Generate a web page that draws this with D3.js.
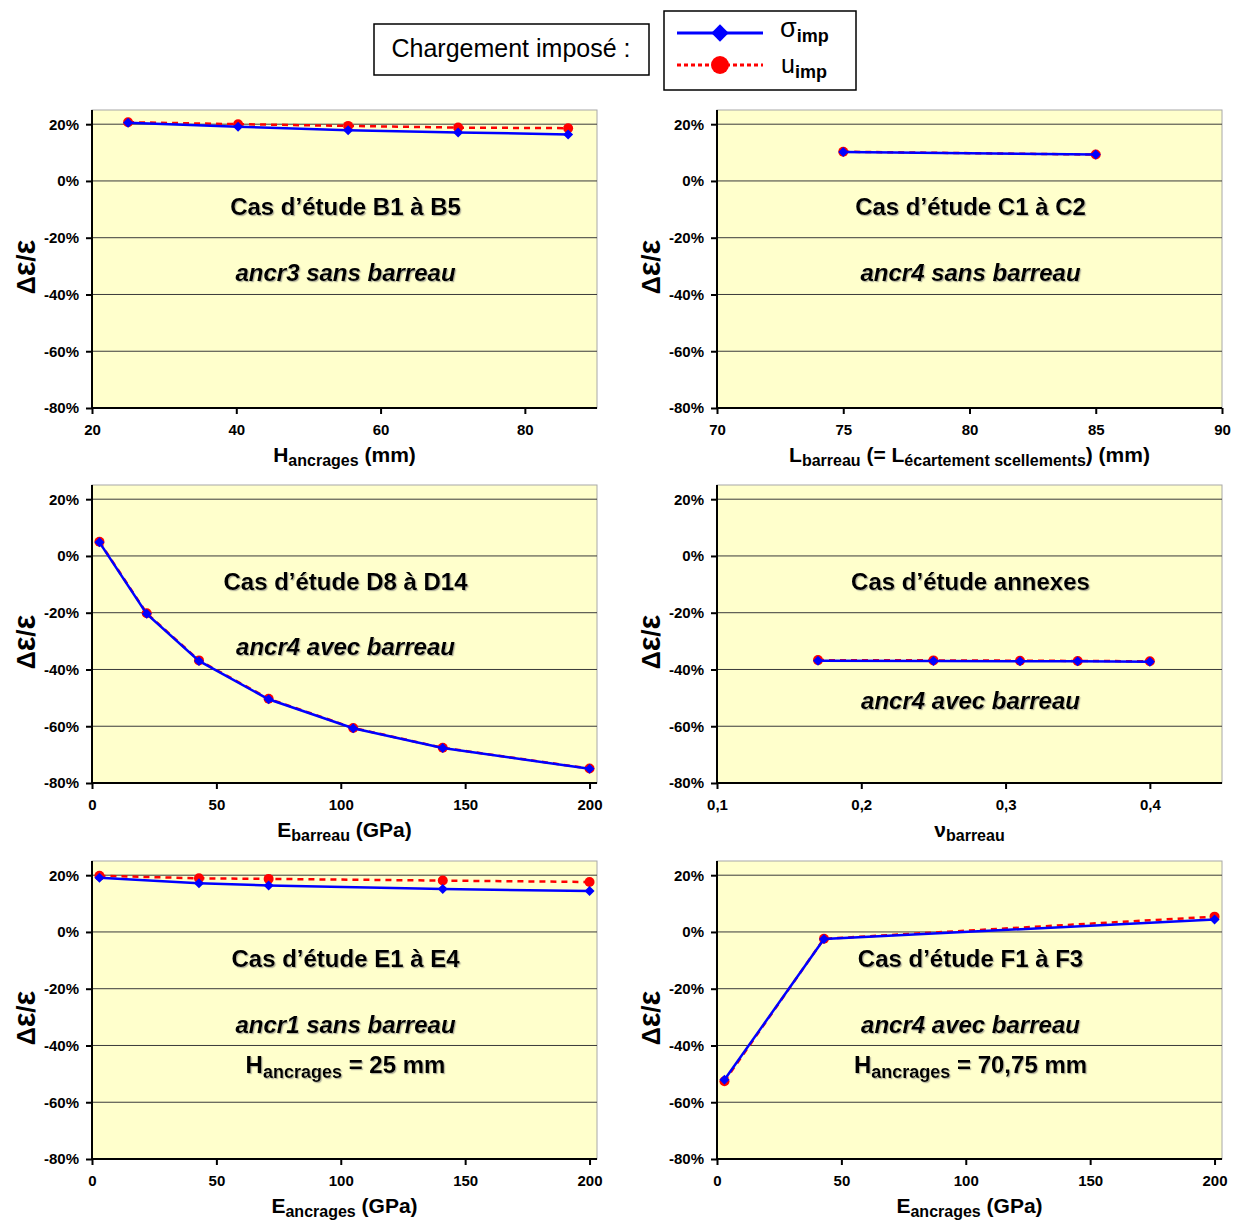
<!DOCTYPE html>
<html><head><meta charset="utf-8">
<script src="https://cdn.jsdelivr.net/npm/d3@7"></script>
<style>
body{margin:0;background:#fff}
svg{display:block}
text{font-family:"Liberation Sans",Arial,Helvetica,sans-serif}
</style></head>
<body><svg id="chart" width="1240" height="1220"></svg>
<script>
// ---------------- DATA ----------------
const yTickValues = [-80, -60, -40, -20, 0, 20];

const xB = [25, 40.25, 55.5, 70.75, 86];
const sigmaB = [20.5, 19.1, 17.9, 17.1, 16.4];
const uB = [20.7, 20.0, 19.4, 18.8, 18.6];
const xTicksB = [20, 40, 60, 80];

const xC = [75, 85];
const sigmaC = [10.2, 9.3];
const uC = [10.3, 9.3];
const xTicksC = [70, 75, 80, 85, 90];

const xD = [3, 22, 43, 71, 105, 141, 200];
const sigmaD = [4.8, -20.4, -37.0, -50.5, -60.7, -67.7, -75.0];
const uD = [5.0, -20.2, -36.8, -50.3, -60.6, -67.6, -74.9];
const xTicksD = [0, 50, 100, 150, 200];

const xAnn = [0.17, 0.25, 0.31, 0.35, 0.40];
const sigmaAnn = [-36.9, -37.0, -37.1, -37.1, -37.3];
const uAnn = [-36.7, -36.8, -36.9, -37.0, -37.1];
const xTicksAnn = [0.1, 0.2, 0.3, 0.4];

const xE = [3, 43, 71, 141, 200];
const sigmaE = [19.1, 17.2, 16.4, 15.1, 14.4];
const uE = [19.8, 18.9, 18.7, 18.1, 17.6];
const xTicksE = [0, 50, 100, 150, 200];

const xF = [3, 43, 200];
const sigmaF = [-52.1, -2.5, 4.4];
const uF = [-52.6, -2.4, 5.4];
const xTicksF = [0, 50, 100, 150, 200];

// text content
const yTitleParts = [["Δ", 25], ["ε", 31], ["/", 26], ["ε", 31]];
const legendTitle = "Chargement imposé :";
const titleB = [["H", 0], ["ancrages", 1], [" (mm)", 0]];
const titleC = [["L", 0], ["barreau", 1], [" (= L", 0], ["écartement scellements", 1], [") (mm)", 0]];
const titleD = [["E", 0], ["barreau", 1], [" (GPa)", 0]];
const titleAnn = [["ν", 0], ["barreau", 1]];
const titleE = [["E", 0], ["ancrages", 1], [" (GPa)", 0]];
const titleF = [["E", 0], ["ancrages", 1], [" (GPa)", 0]];
const notesB = ["Cas d’étude B1 à B5", "ancr3 sans barreau"];
const notesC = ["Cas d’étude C1 à C2", "ancr4 sans barreau"];
const notesD = ["Cas d’étude D8 à D14", "ancr4 avec barreau"];
const notesAnn = ["Cas d’étude annexes", "ancr4 avec barreau"];
const notesE = ["Cas d’étude E1 à E4", "ancr1 sans barreau"];
const notesF = ["Cas d’étude F1 à F3", "ancr4 avec barreau"];
const hNoteE = [["H", 0], ["ancrages", 1], [" = 25 mm", 0]];
const hNoteF = [["H", 0], ["ancrages", 1], [" = 70,75 mm", 0]];

// ---------------- LAYOUT ----------------
const colLeft = [92, 717];
const plotW = 505;
const rowTop = [110, 485, 861];
const plotH = 298;
const BLUE = "#0000ff", RED = "#ff0000", BG = "#ffffcc";

const svg = d3.select("#chart");
const defs = svg.append("defs");
const f = defs.append("filter").attr("id", "shadow").attr("x", "-5%").attr("y", "-20%").attr("width", "110%").attr("height", "140%");
f.append("feDropShadow").attr("dx", 1.2).attr("dy", 1.2).attr("stdDeviation", 0.6)
  .attr("flood-color", "#777").attr("flood-opacity", 0.55);

function rich(sel, parts, big, small, shift) {
  let prevSub = false;
  parts.forEach(([t, sub]) => {
    const ts = sel.append("tspan").text(t).attr("font-size", sub ? small : big);
    if (sub && !prevSub) ts.attr("dy", shift);
    else if (!sub && prevSub) ts.attr("dy", -shift);
    prevSub = !!sub;
  });
}

const panels = [
  {col: 0, row: 0, x: xB, s: sigmaB, u: uB, dom: [20, 90], ticks: xTicksB, fmt: d3.format("d"), title: titleB, notes: notesB, noteY: [105, 171], h: null},
  {col: 1, row: 0, x: xC, s: sigmaC, u: uC, dom: [70, 90], ticks: xTicksC, fmt: d3.format("d"), title: titleC, notes: notesC, noteY: [105, 171], h: null},
  {col: 0, row: 1, x: xD, s: sigmaD, u: uD, dom: [0, 203], ticks: xTicksD, fmt: d3.format("d"), title: titleD, notes: notesD, noteY: [105, 170], h: null},
  {col: 1, row: 1, x: xAnn, s: sigmaAnn, u: uAnn, dom: [0.1, 0.45], ticks: xTicksAnn, fmt: d => d.toFixed(1).replace(".", ","), title: titleAnn, notes: notesAnn, noteY: [105, 224], h: null},
  {col: 0, row: 2, x: xE, s: sigmaE, u: uE, dom: [0, 203], ticks: xTicksE, fmt: d3.format("d"), title: titleE, notes: notesE, noteY: [106, 172], h: hNoteE},
  {col: 1, row: 2, x: xF, s: sigmaF, u: uF, dom: [0, 203], ticks: xTicksF, fmt: d3.format("d"), title: titleF, notes: notesF, noteY: [106, 172], h: hNoteF}
];

const diamond = d3.symbol().type(d3.symbolSquare).size(50)();
const diamondBig = d3.symbol().type(d3.symbolSquare).size(150)();

panels.forEach(p => {
  const L = colLeft[p.col], T = rowTop[p.row];
  const x = d3.scaleLinear().domain(p.dom).range([L, L + plotW]);
  const y = d3.scaleLinear().domain([-80, 25]).range([T + plotH, T]);
  const g = svg.append("g");

  g.append("rect").attr("x", L).attr("y", T).attr("width", plotW).attr("height", plotH)
    .attr("fill", BG).attr("stroke", "#a8a8a8").attr("stroke-width", 1);

  // gridlines
  g.append("g").selectAll("line").data(yTickValues.filter(v => v !== -80)).join("line")
    .attr("x1", L).attr("x2", L + plotW).attr("y1", d => y(d)).attr("y2", d => y(d))
    .attr("stroke", "#3a3a3a").attr("stroke-width", 1);

  // axes
  const ya = g.append("g").attr("transform", `translate(${L},0)`)
    .call(d3.axisLeft(y).tickValues(yTickValues).tickFormat(d => d + "%").tickSize(6).tickPadding(7));
  const xa = g.append("g").attr("transform", `translate(0,${T + plotH})`)
    .call(d3.axisBottom(x).tickValues(p.ticks).tickFormat(p.fmt).tickSize(6).tickPadding(10));
  [ya, xa].forEach(a => {
    a.select(".domain").attr("stroke", "#000").attr("stroke-width", 2);
    a.selectAll(".tick line").attr("stroke", "#000").attr("stroke-width", 2);
    a.selectAll(".tick text").attr("fill", "#000").attr("font-size", 15).attr("font-weight", "bold")
      .attr("font-family", '"Liberation Sans",Arial,sans-serif');
  });
  ya.select(".domain").attr("d", `M0,${T + plotH}V${T}`);
  xa.select(".domain").attr("d", `M${L},0H${L + plotW}`);

  // y title
  const yt = g.append("text").attr("transform", `translate(${L - 57},${T + plotH / 2 + 8}) rotate(-90)`)
    .attr("text-anchor", "middle").attr("font-weight", "bold");
  yTitleParts.forEach(([t, fs]) => yt.append("tspan").attr("font-size", fs).text(t));

  // x title
  const xt = g.append("text").attr("x", L + plotW / 2).attr("y", T + plotH + 54)
    .attr("text-anchor", "middle").attr("font-weight", "bold");
  rich(xt, p.title, 21, 16, 4);

  // notes
  const cx = L + plotW / 2 + 1;
  g.append("text").attr("x", cx).attr("y", T + p.noteY[0]).attr("text-anchor", "middle")
    .attr("font-size", 24).attr("font-weight", "bold").attr("filter", "url(#shadow)").text(p.notes[0]);
  g.append("text").attr("x", cx).attr("y", T + p.noteY[1]).attr("text-anchor", "middle")
    .attr("font-size", 24).attr("font-weight", "bold").attr("font-style", "italic")
    .attr("filter", "url(#shadow)").text(p.notes[1]);
  if (p.h) {
    const ht = g.append("text").attr("x", cx).attr("y", T + 212).attr("text-anchor", "middle")
      .attr("font-weight", "bold").attr("filter", "url(#shadow)");
    rich(ht, p.h, 24, 18, 5);
  }

  // series
  const line = d3.line().x(d => x(d[0])).y(d => y(d[1]));
  const red = p.x.map((v, i) => [v, p.u[i]]);
  const blue = p.x.map((v, i) => [v, p.s[i]]);
  g.append("path").datum(red).attr("d", line).attr("fill", "none").attr("stroke", RED)
    .attr("stroke-width", 2.5).attr("stroke-dasharray", "6,5");
  g.append("g").selectAll("circle").data(red).join("circle")
    .attr("cx", d => x(d[0])).attr("cy", d => y(d[1])).attr("r", 5).attr("fill", RED);
  g.append("path").datum(blue).attr("d", line).attr("fill", "none").attr("stroke", BLUE)
    .attr("stroke-width", 2.5);
  g.append("g").selectAll("path").data(blue).join("path")
    .attr("d", diamond).attr("fill", BLUE)
    .attr("transform", d => `translate(${x(d[0])},${y(d[1])}) rotate(45)`);
});

// ---------------- LEGEND ----------------
svg.append("rect").attr("x", 374).attr("y", 24).attr("width", 275).attr("height", 51)
  .attr("fill", "#fff").attr("stroke", "#000").attr("stroke-width", 1.5);
svg.append("text").attr("x", 511).attr("y", 57).attr("text-anchor", "middle")
  .attr("font-size", 25).text(legendTitle);

svg.append("rect").attr("x", 664).attr("y", 11).attr("width", 192).attr("height", 79)
  .attr("fill", "#fff").attr("stroke", "#000").attr("stroke-width", 1.5);
svg.append("line").attr("x1", 677).attr("x2", 763).attr("y1", 33).attr("y2", 33)
  .attr("stroke", BLUE).attr("stroke-width", 3);
svg.append("path").attr("d", diamondBig).attr("fill", BLUE).attr("transform", "translate(720,33) rotate(45)");
svg.append("line").attr("x1", 677).attr("x2", 763).attr("y1", 65).attr("y2", 65)
  .attr("stroke", RED).attr("stroke-width", 3).attr("stroke-dasharray", "4,3");
svg.append("circle").attr("cx", 720).attr("cy", 65).attr("r", 9).attr("fill", RED);

const l1 = svg.append("text").attr("x", 780).attr("y", 37);
l1.append("tspan").attr("font-size", 27).text("σ");
l1.append("tspan").attr("font-size", 18).attr("font-weight", "bold").attr("dy", 5).text("imp");
const l2 = svg.append("text").attr("x", 781).attr("y", 73);
l2.append("tspan").attr("font-size", 25).text("u");
l2.append("tspan").attr("font-size", 18).attr("font-weight", "bold").attr("dy", 5).text("imp");
</script></body></html>
